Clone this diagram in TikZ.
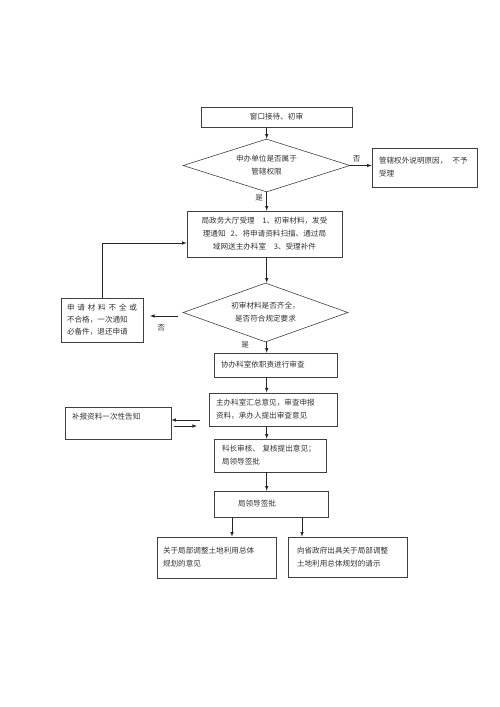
\documentclass[tikz,border=0pt]{standalone}
\usepackage{fontspec}
\setmainfont{Noto Sans CJK SC}
\usetikzlibrary{shapes.geometric}
\usetikzlibrary{arrows}
\usetikzlibrary{calc}

\begin{document}
\begin{tikzpicture}[x=1pt,y=-1pt,>=latex,
    every node/.style={font=\fontsize{7.6}{13}\selectfont, text=black!80},
    box/.style={draw=black!75, line width=0.6pt, rectangle, inner ysep=0pt, inner xsep=7pt, align=left},
    ask/.style={draw=black!75, line width=0.6pt, diamond, aspect=3, inner sep=0pt, align=center},
    flow/.style={->, draw=black!85, line width=0.6pt}]

	\useasboundingbox (0,0) rectangle (500,707);

	% boxes and questions
	\node[box, text width=137pt, minimum height=20pt, align=center] (b1) at (276.5,117) {窗口接待、初审};
	\node[ask, minimum width=167pt, minimum height=53pt] (d1) at (266.5,165.5) {申办单位是否属于\\管辖权限};
	\node[box, text width=91pt, minimum height=39pt] (bx) at (424.5,167.5) {管辖权外说明原因，\ \ 不予\\受理};
	\node[box, text width=141pt, minimum height=46pt, align=center] (b2) at (264.5,234) {局政务大厅受理\quad 1、初审材料，发受\\理通知\ \ 2、将申请资料扫描、通过局\\域网送主办科室\quad 3、受理补件};
	\node[ask, minimum width=165pt, minimum height=59pt] (d2) at (265.5,312.5) {初审材料是否齐全，\\是否符合规定要求};
	\node[box, text width=70pt, minimum height=44pt, inner xsep=6pt, font=\fontsize{7.6}{12}\selectfont] (lb) at (102,320) {\hbox to 70pt{申\hfill 请\hfill 材\hfill 料\hfill 不\hfill 全\hfill 或}\\不合格，一次通知\\必备件，退还申请};
	\node[box, text width=109pt, minimum height=24pt] (b3) at (275.5,365) {协办科室依职责进行审查};
	\node[box, line width=1pt, text width=114pt, minimum height=33pt] (b4) at (273,409.5) {主办科室汇总意见，审查申报\\资料，承办人提出审查意见};
	\node[box, text width=92pt, minimum height=32pt] (sb) at (118,423) {补报资料一次性告知\\\mbox{}};
	\node[box, inner xsep=8pt, text width=96pt, minimum height=33pt] (b5) at (270,455.5) {科长审核、\ 复核提出意见；\\局领导签批};
	\node[box, inner xsep=24pt, text width=66pt, minimum height=26pt] (b6) at (271,504) {局领导签批};
	\node[box, inner xsep=6pt, text width=107pt, minimum height=41pt] (bl) at (216.5,557.5) {关于局部调整土地利用总体\\规划的意见};
	\node[box, inner xsep=9pt, text width=101pt, minimum height=40pt] (br) at (347.5,557) {向省政府出具关于局部调整\\土地利用总体规划的请示};

	% main line
	\coordinate (ax) at (266.7,0);
	\draw[flow] (b1.south -| ax) -- (d1.north -| ax);
	\draw[flow] (d1.east) -- (d1.east -| bx.west) node[pos=0.3, above] {否};
	\draw[flow] (d1.south -| ax) -- (b2.north -| ax) node[pos=0.3, left] {是};
	\draw[flow] (b2.south -| ax) -- (d2.north -| ax);
	\draw[flow] (d2.south -| ax) -- (b3.north -| ax) node[pos=0.2, left=14pt] {是};
	\draw[flow] (b3.south -| ax) -- (b4.north -| ax);
	\draw[flow] (b4.south -| ax) -- (b5.north -| ax);
	\draw[flow] (b5.south -| ax) -- (b6.north -| ax);

	% back to the hall
	\coordinate (n1) at (178,316);
	\coordinate (n2) at (150,316);
	\draw[flow] (n1) -- (n2) node[pos=0.6, below=5pt] {否};
	\draw[flow] (lb.north) |- ([yshift=-9pt]b2.west);

	% supplements
	\coordinate (m1) at (200,420);
	\coordinate (m2) at (174,426);
	\coordinate (m3) at (197,426);
	\draw[flow] (m1) -- (m1 -| sb.east);
	\draw[flow] (m2) -- (m3);

	% two results
	\coordinate (p1) at ([xshift=-39pt]b6.south);
	\coordinate (p2) at ([xshift=31pt]b6.south);
	\draw[flow] (p1) -- (p1 |- bl.north);
	\draw[flow] (p2) -- (p2 |- br.north);
\end{tikzpicture}
\end{document}
